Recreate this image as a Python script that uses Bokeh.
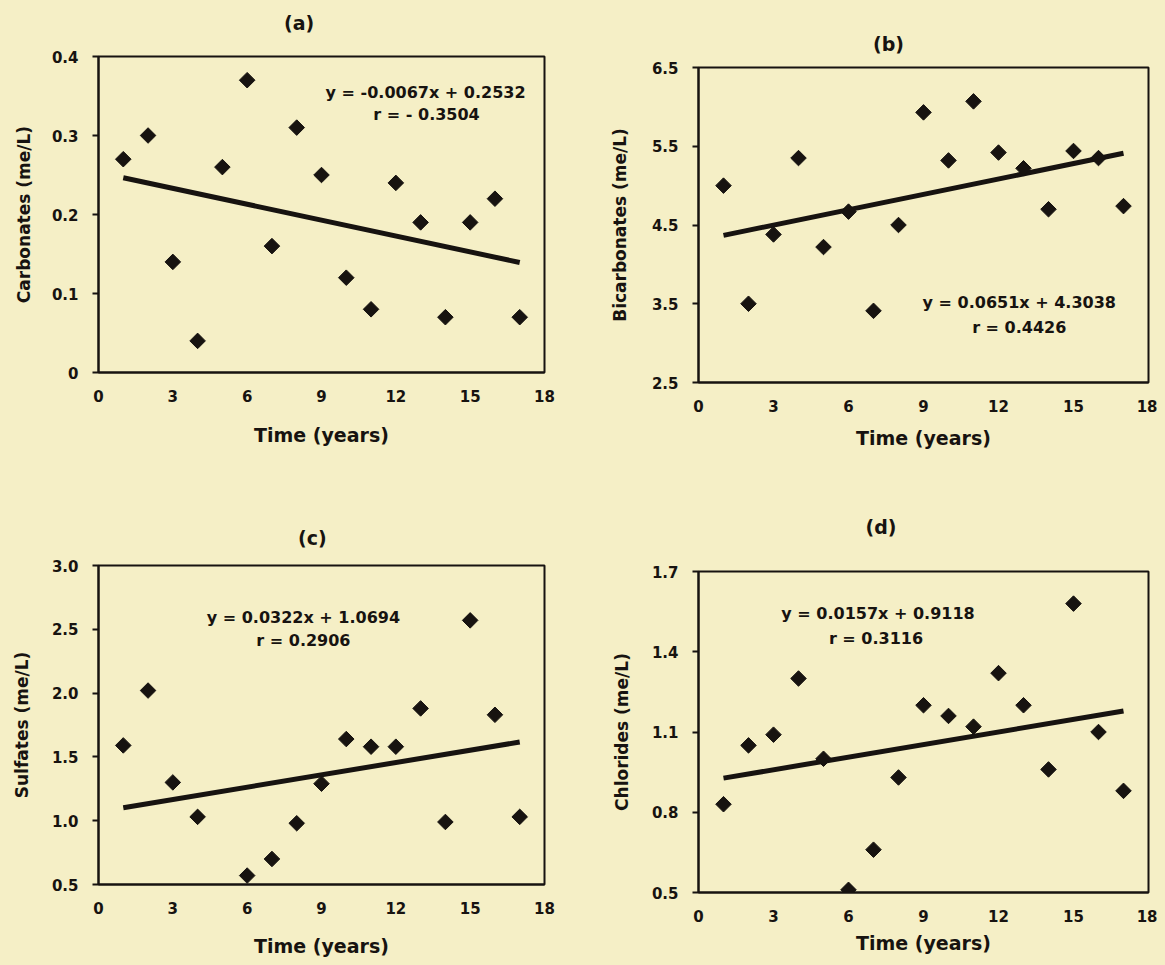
import math
import json
from bokeh.plotting import figure
from bokeh.layouts import row, column
from bokeh.models import (FixedTicker, NumeralTickFormatter, Label, LinearAxis,
                          CustomJSTickFormatter)
from bokeh.embed import file_html
from bokeh.resources import INLINE

# ---------------- data ----------------
years = [1, 2, 3, 4, 5, 6, 7, 8, 9, 10, 11, 12, 13, 14, 15, 16, 17]
carbonates = [0.27, 0.30, 0.14, 0.04, 0.26, 0.37, 0.16, 0.31, 0.25, 0.12, 0.08, 0.24, 0.19, 0.07, 0.19, 0.22, 0.07]
bicarbonates = [5.00, 3.50, 4.38, 5.35, 4.22, 4.67, 3.41, 4.50, 5.93, 5.32, 6.07, 5.42, 5.22, 4.70, 5.44, 5.35, 4.74]
sulfate_years = [1, 2, 3, 4, 6, 7, 8, 9, 10, 11, 12, 13, 14, 15, 16, 17]
sulfates = [1.59, 2.02, 1.30, 1.03, 0.57, 0.70, 0.98, 1.29, 1.64, 1.58, 1.58, 1.88, 0.99, 2.57, 1.83, 1.03]
chlorides = [0.83, 1.05, 1.09, 1.30, 1.00, 0.51, 0.66, 0.93, 1.20, 1.16, 1.12, 1.32, 1.20, 0.96, 1.58, 1.10, 0.88]

x_ticks = [0, 3, 6, 9, 12, 15, 18]
carb_ticks = [0, 0.1, 0.2, 0.3, 0.4]
bicarb_ticks = [2.5, 3.5, 4.5, 5.5, 6.5]
sulf_ticks = [0.5, 1.0, 1.5, 2.0, 2.5, 3.0]
chlor_ticks = [0.5, 0.8, 1.1, 1.4, 1.7]

carb_fit = (-0.0067, 0.2532)
bicarb_fit = (0.0651, 4.3038)
sulf_fit = (0.0322, 1.0694)
chlor_fit = (0.0157, 0.9118)

carb_text = ["y = -0.0067x + 0.2532", "r = - 0.3504"]
bicarb_text = ["y = 0.0651x + 4.3038", "r = 0.4426"]
sulf_text = ["y = 0.0322x + 1.0694", "r = 0.2906"]
chlor_text = ["y = 0.0157x + 0.9118", "r = 0.3116"]

# ---------------- style ----------------
BG = "#F5EFC6"
INK = "#171310"
FONT = "DejaVu Sans"


def panel(title, xs, ys, fit, eq, yticks, yfmt, ylabel, W, H, bl, br, bt, bb,
          title_x, title_standoff, eq_pos, ylab_standoff, xlab_standoff):
    ymin, ymax = yticks[0], yticks[-1]
    p = figure(width=W, height=H, x_range=(0, 18), y_range=(ymin, ymax),
               output_backend="svg", toolbar_location=None,
               min_border_left=bl, min_border_right=br,
               min_border_top=bt, min_border_bottom=bb)
    p.background_fill_color = BG
    p.border_fill_color = BG
    p.outline_line_color = INK
    p.outline_line_width = 2
    p.xgrid.visible = False
    p.ygrid.visible = False

    for ax in (p.xaxis[0], p.yaxis[0]):
        ax.axis_line_color = INK
        ax.axis_line_width = 2
        ax.major_tick_line_color = INK
        ax.major_tick_line_width = 2
        ax.minor_tick_line_color = None
        ax.major_tick_in = 0
        ax.major_label_text_font = FONT
        ax.major_label_text_font_style = "bold"
        ax.major_label_text_font_size = "15px"
        ax.major_label_text_color = INK
        ax.axis_label_text_font = FONT
        ax.axis_label_text_font_style = "bold"
        ax.axis_label_text_color = INK

    p.xaxis.ticker = FixedTicker(ticks=x_ticks)
    p.xaxis.formatter = NumeralTickFormatter(format="0")
    p.xaxis.major_tick_out = 0
    p.xaxis.major_label_standoff = 17
    p.xaxis.axis_label = "Time (years)"
    p.xaxis.axis_label_text_font_size = "19px"
    p.xaxis.axis_label_standoff = xlab_standoff

    p.yaxis.ticker = FixedTicker(ticks=yticks)
    p.yaxis.formatter = NumeralTickFormatter(format=yfmt)
    p.yaxis.major_tick_out = 6
    p.yaxis.major_label_standoff = 14
    p.yaxis.axis_label = ylabel
    p.yaxis.axis_label_text_font_size = "17px"
    p.yaxis.axis_label_standoff = ylab_standoff

    # panel letter, placed above the frame at a given year position
    tax = LinearAxis(ticker=FixedTicker(ticks=[title_x]),
                     formatter=CustomJSTickFormatter(code="return %s;" % json.dumps(title)),
                     axis_line_color=None, major_tick_line_color=None,
                     minor_tick_line_color=None, major_tick_out=0, major_tick_in=0,
                     major_label_standoff=title_standoff,
                     major_label_text_font=FONT, major_label_text_font_style="bold",
                     major_label_text_font_size="19px", major_label_text_color=INK)
    p.add_layout(tax, "above")

    # trend line over the observed years
    x0, x1 = min(xs), max(xs)
    m, c = fit
    p.line([x0, x1], [m * x0 + c, m * x1 + c], line_color=INK, line_width=5)

    p.scatter(xs, ys, marker="square", size=11, angle=math.pi / 4,
              fill_color=INK, line_color=INK)

    for (ex, ey), t in zip(eq_pos, eq):
        p.add_layout(Label(x=ex, y=ey, text=t, text_align="center",
                           text_baseline="middle", text_font=FONT,
                           text_font_style="bold", text_font_size="16px",
                           text_color=INK))
    return p


# left column: frame left at 96, width 448 ; right column: frame left 698, width 450
pa = panel("(a)", years, carbonates, carb_fit, carb_text, carb_ticks, "0.[0]",
           "Carbonates (me/L)", 588, 472, 88, 52, 48, 108,
           8.1, 23, [(13.2, 0.355), (13.24, 0.327)], 15, 19)
pc = panel("(c)", sulfate_years, sulfates, sulf_fit, sulf_text, sulf_ticks, "0.0",
           "Sulfates (me/L)", 588, 484, 88, 52, 85, 80,
           8.63, 17, [(8.27, 2.594), (8.27, 2.41)], 17, 18)
pb = panel("(b)", years, bicarbonates, bicarb_fit, bicarb_text, bicarb_ticks, "0.0",
           "Bicarbonates (me/L)", 561, 472, 102, 9, 59, 98,
           7.6, 13, [(12.83, 3.51), (12.83, 3.20)], 19, 12)
pd = panel("(d)", years, chlorides, chlor_fit, chlor_text, chlor_ticks, "0.0",
           "Chlorides (me/L)", 561, 484, 102, 9, 91, 72,
           7.3, 34, [(7.18, 1.544), (7.1, 1.45)], 17, 7)

bgstyle = {"background-color": BG}
layout = row(column(pa, pc, spacing=0, styles=bgstyle),
             column(pb, pd, spacing=0, styles=bgstyle),
             spacing=0, styles=bgstyle)

html = file_html(layout, INLINE)
css = ("<style>html,body{background-color:%s !important;}"
       "body{margin:8px 8px 0 8px !important;}</style>" % BG)
html = html.replace("<head>", "<head>" + css, 1)
open("out.html", "w").write(html)
